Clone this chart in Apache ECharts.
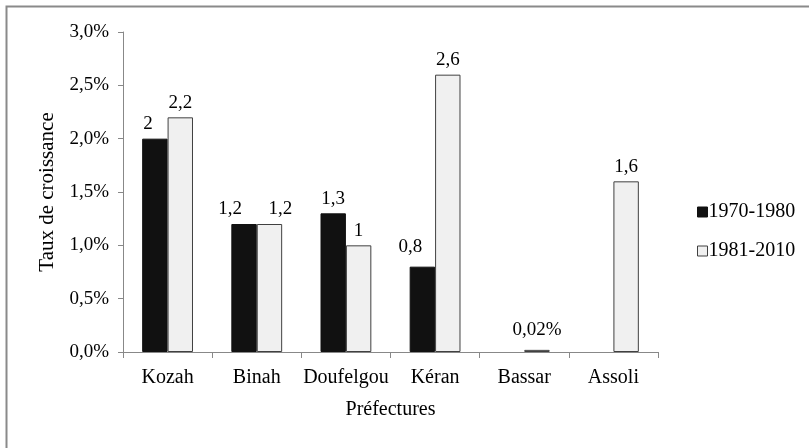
<!DOCTYPE html>
<html>
<head>
<meta charset="utf-8">
<script src="https://cdn.jsdelivr.net/npm/echarts@6/dist/echarts.min.js"></script>
<style>html,body{margin:0;padding:0;background:#fff}#c{width:809px;height:448px}</style>
</head>
<body>
<div id="c"></div>
<script>
var categories = ['Kozah', 'Binah', 'Doufelgou', 'Kéran', 'Bassar', 'Assoli'];
var seriesNames = ['1970-1980', '1981-2010'];
var values1970 = [2, 1.2, 1.3, 0.8, null, null];
var values1981 = [2.2, 1.2, 1, 2.6, 0.02, 1.6];
var labels1970 = ['2', '1,2', '1,3', '0,8', '', ''];
var labels1981 = ['2,2', '1,2', '1', '2,6', '0,02%', '1,6'];
var yTicks = ['0,0%', '0,5%', '1,0%', '1,5%', '2,0%', '2,5%', '3,0%'];
var yName = 'Taux de croissance';
var xName = 'Préfectures';

var font = '"Liberation Serif", "Times New Roman", serif';

// label nudges (as placed in the original chart)
var nudge1970 = [[-7, 0], [-14, 0], [0, 0], [-12, -5], [0, 0], [0, 0]];
var nudge1981 = [[0, 0], [11, 0], [0, 0], [0, 0], [0, -5], [0, 0]];

function buildData(values, labels, nudges) {
  return values.map(function (v, i) {
    return {value: v, label: {formatter: labels[i], offset: nudges[i]}};
  });
}

var chart = echarts.init(document.getElementById('c'), null, {renderer: 'canvas'});
chart.setOption({
  animation: false,
  textStyle: {fontFamily: font, color: '#000'},
  graphic: [{
    type: 'rect', left: 4, top: 4, shape: {x: 0, y: 0, width: 900, height: 600},
    style: {fill: 'none', stroke: '#8a8a8a', lineWidth: 2}, z: -10
  }],
  grid: {left: 123, top: 32, width: 535, bottom: 96},
  legend: {
    orient: 'vertical', left: 692, top: 197, itemWidth: 10, itemHeight: 10, itemGap: 19,
    icon: 'rect',
    textStyle: {fontFamily: font, fontSize: 20, color: '#000', padding: [0, 0, 0, -4]},
    data: [
      {name: seriesNames[0], itemStyle: {color: '#111', borderColor: '#111', borderWidth: 1}},
      {name: seriesNames[1], itemStyle: {color: '#f0f0f0', borderColor: '#404040', borderWidth: 1}}
    ]
  },
  xAxis: {
    type: 'category', data: categories,
    name: xName, nameLocation: 'middle', nameGap: 48,
    nameTextStyle: {fontFamily: font, fontSize: 20, color: '#000'},
    axisLine: {lineStyle: {color: '#888', width: 1}},
    axisTick: {show: true, length: 6, lineStyle: {color: '#888'}},
    axisLabel: {fontFamily: font, fontSize: 20, color: '#000', margin: 16, interval: 0}
  },
  yAxis: {
    type: 'value', min: 0, max: 3, interval: 0.5,
    name: yName, nameLocation: 'middle', nameGap: 65, nameRotate: 90,
    nameTextStyle: {fontFamily: font, fontSize: 21, color: '#000'},
    splitLine: {show: false},
    axisLine: {show: true, lineStyle: {color: '#888', width: 1}},
    axisTick: {show: true, length: 5, lineStyle: {color: '#888'}},
    axisLabel: {fontFamily: font, fontSize: 19, color: '#000', margin: 14,
      formatter: function (v) { return yTicks[Math.round(v / 0.5)]; }}
  },
  series: [
    {
      name: seriesNames[0], type: 'bar', data: buildData(values1970, labels1970, nudge1970),
      barGap: '0%', barCategoryGap: '43%',
      itemStyle: {color: '#111', borderColor: '#111', borderWidth: 1},
      label: {show: true, position: 'top', distance: 5, fontFamily: font, fontSize: 19, color: '#000'}
    },
    {
      name: seriesNames[1], type: 'bar', data: buildData(values1981, labels1981, nudge1981),
      barGap: '0%', barCategoryGap: '43%',
      itemStyle: {color: '#f0f0f0', borderColor: '#404040', borderWidth: 1},
      label: {show: true, position: 'top', distance: 5, fontFamily: font, fontSize: 19, color: '#000'}
    }
  ]
});
</script>
</body>
</html>
